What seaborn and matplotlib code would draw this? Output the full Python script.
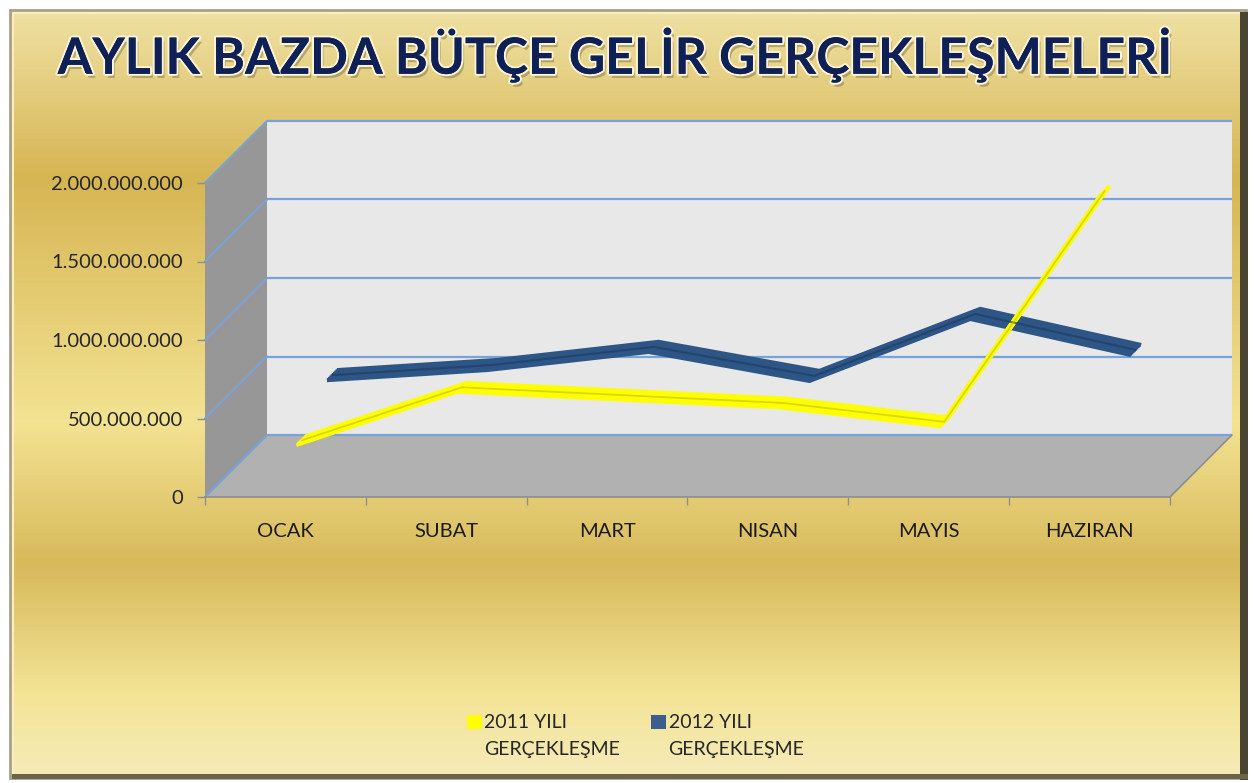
import numpy as np
import pandas as pd
import matplotlib
matplotlib.use("Agg")
import matplotlib.pyplot as plt
import matplotlib.patheffects as pe
import matplotlib.transforms as mtransforms
from matplotlib.patches import Polygon, Rectangle, Patch
from matplotlib.colors import LinearSegmentedColormap
import seaborn as sns

# Chart values
months = ["OCAK", "SUBAT", "MART", "NISAN", "MAYIS", "HAZIRAN"]
gelir_2011 = [260e6, 600e6, 550e6, 500e6, 380e6, 1855e6]
gelir_2012 = [480e6, 545e6, 660e6, 475e6, 870e6, 640e6]
y_ticks = [0, 500e6, 1000e6, 1500e6, 2000e6]
y_tick_labels = ["0", "500.000.000", "1.000.000.000", "1.500.000.000", "2.000.000.000"]
series_first = ["2011 YILI", "2012 YILI"]
series_second = ["GERÇEKLEŞME", "GERÇEKLEŞME"]
title = "AYLIK BAZDA BÜTÇE GELİR GERÇEKLEŞMELERİ"

df11 = pd.DataFrame({"pos": range(len(months)), "gelir": gelir_2011})
df12 = pd.DataFrame({"pos": range(len(months)), "gelir": gelir_2012})

sns.set_theme(style="white")
plt.rcParams["font.family"] = ["Lato", "DejaVu Sans"]

W, H = 1255, 783
fig = plt.figure(figsize=(W / 100, H / 100), dpi=100)
fig.patch.set_facecolor("white")

# gold gradient background + frame
bg = fig.add_axes([0, 0, 1, 1], zorder=-10)
stops = [(0, "#efe1a3"), (170, "#d6b553"), (420, "#f3e392"),
         (565, "#d8b95b"), (700, "#f3e496"), (783, "#f6ebb8")]
cmap = LinearSegmentedColormap.from_list("gold", [(p / H, c) for p, c in stops])
grad = np.linspace(0, 1, 500).reshape(-1, 1)
bg.imshow(grad, cmap=cmap, aspect="auto", extent=(10, 1246, 778, 10))
bg.set_xlim(0, W)
bg.set_ylim(H, 0)
bg.axis("off")
bg.add_patch(Rectangle((10, 10), 1236, 768, fill=False, ec="#a8a088", lw=2))
bg.add_patch(Rectangle((13, 13), 1230, 762, fill=False, ec="#f8eec0", lw=1.5))
bg.add_patch(Rectangle((1240, 12), 8, 768, fc="#4a4432", ec="none"))
bg.add_patch(Rectangle((12, 774), 1236, 5, fc="#6b6348", ec="none"))

# main plot area = front plane of the 3D box
L, R, B, T = 205, 1170, 497, 183
ax = fig.add_axes([L / W, (H - B) / H, (R - L) / W, (B - T) / H], zorder=1)
ax.patch.set_alpha(0)
D = 62  # depth of the box in pixels
dxa, dya = D / (R - L), D / (B - T)


def depth(px):
    return mtransforms.offset_copy(ax.transData, fig=fig, x=px, y=px, units="dots")


grid_blue = "#79a2d6"
ax.add_patch(Polygon([(dxa, dya), (1 + dxa, dya), (1 + dxa, 1 + dya), (dxa, 1 + dya)],
                     closed=True, transform=ax.transAxes, fc="#e8e8e8", ec="none",
                     clip_on=False, zorder=0))
ax.add_patch(Polygon([(0, 0), (dxa, dya), (dxa, 1 + dya), (0, 1)],
                     closed=True, transform=ax.transAxes, fc="#979797", ec="none",
                     clip_on=False, zorder=0))
ax.add_patch(Polygon([(0, 0), (1, 0), (1 + dxa, dya), (dxa, dya)],
                     closed=True, transform=ax.transAxes, fc="#b1b1b1", ec="none",
                     clip_on=False, zorder=0))
ax.hlines(y_ticks, -0.5, 5.5, colors=grid_blue, lw=1.6, transform=depth(D),
          clip_on=False, zorder=0.5)
for t in y_ticks:
    f = t / y_ticks[-1]
    ax.plot([0, dxa], [f, f + dya], color=grid_blue, lw=1.6, transform=ax.transAxes,
            clip_on=False, zorder=0.5)
ax.plot([1, 1 + dxa], [0, dya], color="#8e8e8e", lw=1.2, transform=ax.transAxes,
        clip_on=False, zorder=0.5)


def ribbon(data, center_px, half_px, color, shade, lw):
    for off in np.linspace(center_px - half_px, center_px + half_px, 9):
        sns.lineplot(data=data, x="pos", y="gelir", ax=ax, color=color, lw=lw,
                     errorbar=None, sort=False, legend=False, transform=depth(off),
                     solid_joinstyle="round", solid_capstyle="butt", clip_on=False,
                     zorder=3)
    sns.lineplot(data=data, x="pos", y="gelir", ax=ax, color=shade, lw=lw * 0.5,
                 errorbar=None, sort=False, legend=False, transform=depth(center_px),
                 solid_capstyle="butt", clip_on=False, zorder=3.1, alpha=0.7)


ribbon(df12, 46.5, 5.0, "#2d5585", "#1f3d66", 3.0)
ribbon(df11, 15.5, 4.5, "#ffff00", "#c9c900", 2.6)

ax.set_xlim(-0.5, 5.5)
ax.set_ylim(0, 2e9)
ax.set_xlabel("")
ax.set_ylabel("")
for name, s in ax.spines.items():
    s.set_visible(name == "bottom")
ax.spines["bottom"].set_color("#8e8e8e")
ax.spines["bottom"].set_linewidth(1.2)

ax.set_yticks(y_ticks, y_tick_labels)
ax.set_xticks(range(len(months)), months)
ax.set_xticks(np.arange(-0.5, len(months), 1), minor=True)
ax.tick_params(axis="y", left=True, length=6, width=1, color="#8e8e8e",
               pad=10, labelsize=14.5, labelcolor="#262626")
ax.tick_params(axis="x", which="major", bottom=False, length=0, pad=19,
               labelsize=14.5, labelcolor="#1c1c1c")
ax.tick_params(axis="x", which="minor", bottom=True, length=6, width=1,
               color="#8e8e8e")

# title
fig.text(0.49, 1 - 55 / H, title, ha="center", va="center", fontsize=36,
         fontweight="bold", color="#0f2056",
         path_effects=[pe.withSimplePatchShadow(offset=(2, -3), shadow_rgbFace="#7a6a3a",
                                                alpha=0.45),
                       pe.withStroke(linewidth=3, foreground="#fbf4d6"),
                       pe.Normal()])

# legend (first line in the legend, second line below each label)
handles = [Patch(fc="#ffff00", ec="none"), Patch(fc="#3a5f8f", ec="none")]
leg = fig.legend(handles, series_first, ncol=2, frameon=False, fontsize=14,
                 loc="center left", bbox_to_anchor=(467 / W, 1 - 723 / H),
                 handlelength=0.75, handleheight=0.75, handletextpad=0.15,
                 columnspacing=4.3, borderaxespad=0, borderpad=0)
fig.canvas.draw()
for txt, second in zip(leg.get_texts(), series_second):
    bb = txt.get_window_extent()
    fig.text(bb.x0 / W, (bb.y0 - 26) / H, second, ha="left", va="bottom",
             fontsize=14, color=txt.get_color())

fig.savefig("out.png", dpi=100)
